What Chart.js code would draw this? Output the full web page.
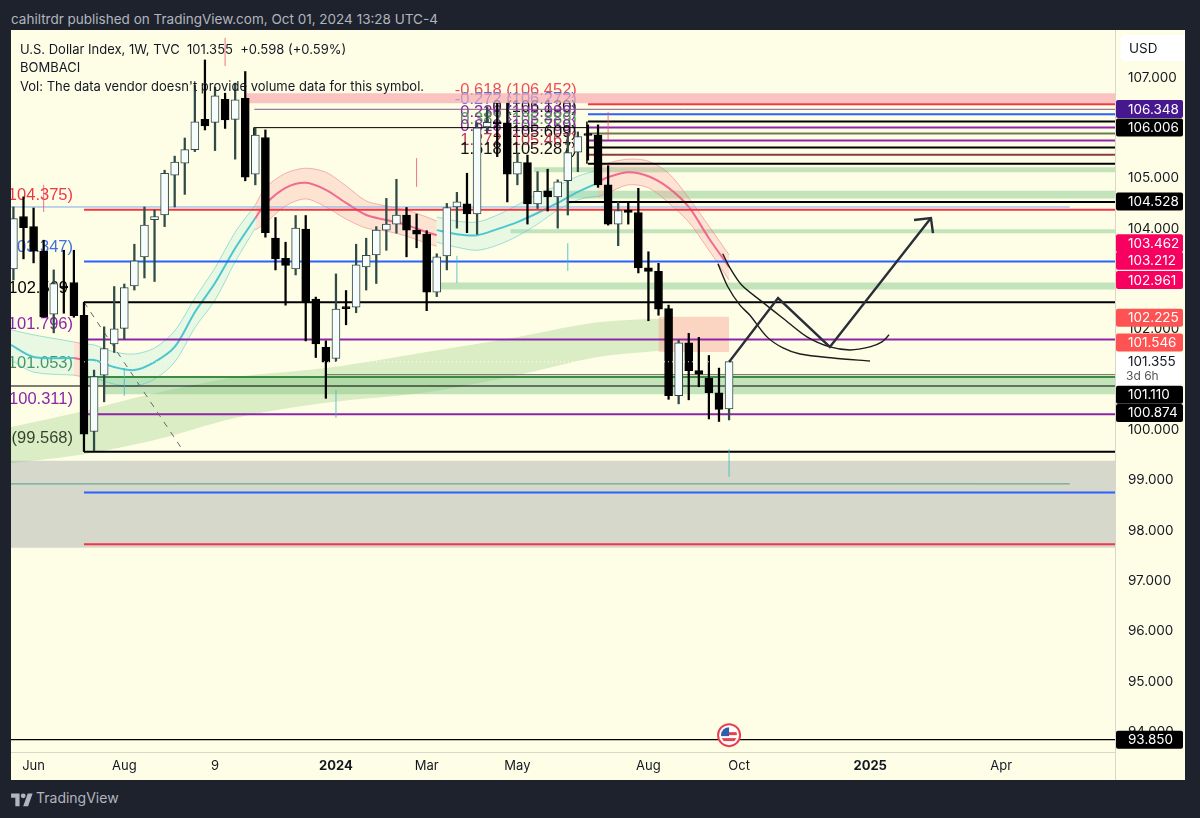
<!DOCTYPE html>
<html><head><meta charset="utf-8">
<script src="https://cdn.jsdelivr.net/npm/chart.js@4"></script>
<style>
html,body{margin:0;padding:0;background:#1e222d;width:1200px;height:818px;overflow:hidden;font-family:Inter,"Liberation Sans",sans-serif}
#wrap{position:absolute;left:11px;top:30px;width:1174px;height:750px;background:#fefee6}
canvas{display:block}
.t{position:absolute;white-space:pre;line-height:18px}
</style></head><body>
<div class="t" style="left:11px;top:10px;color:#b2b5be;font-size:13.5px">cahiltrdr published on TradingView.com, Oct 01, 2024 13:28 UTC-4</div>
<div id="wrap"><canvas id="c" width="1174" height="750"></canvas></div>
<div class="t" style="left:20px;top:40px;color:#131722;font-size:13px">U.S. Dollar Index, 1W, TVC  101.355  +0.598 (+0.59%)</div>
<div class="t" style="left:20px;top:58px;color:#131722;font-size:13px">BOMBACI</div>
<div class="t" style="left:20px;top:77px;color:#131722;font-size:13px">Vol: The data vendor doesn't provide volume data for this symbol.</div>
<svg style="position:absolute;left:11px;top:791px" width="22" height="17" viewBox="0 0 36 28"><path fill="#b2b5be" d="M14 25H7V11H0V4h14v21zM28 25h-8l7.5-21h8L28 25z"/><circle fill="#b2b5be" cx="20" cy="8" r="4"/></svg>
<div class="t" style="left:36px;top:789px;color:#b2b5be;font-size:14px">TradingView</div>
<script>
// ---------- candle data (weekly) ----------
const opens=[103.20,104.24,104.04,103.55,102.30,102.86,102.93,102.28,99.97,101.09,101.71,102.02,102.86,103.44,104.18,104.27,105.06,105.30,105.57,106.17,106.11,106.57,106.17,106.59,105.08,105.81,103.81,103.41,103.20,103.99,102.60,101.64,101.42,102.45,102.44,103.24,103.48,103.97,104.09,104.27,103.97,103.89,102.74,103.46,104.43,104.49,104.29,106.02,106.12,106.10,105.08,105.31,104.49,104.75,104.63,104.95,105.52,105.87,105.86,104.87,104.09,104.37,104.32,103.22,103.15,102.41,100.68,101.73,101.18,101.03,100.74,100.42];
const closes=[104.20,104.02,103.55,102.25,102.91,102.82,102.27,99.92,101.06,101.62,102.01,102.83,103.36,104.07,104.24,105.10,105.32,105.57,106.12,106.04,106.64,106.16,106.56,105.02,105.86,103.92,103.40,103.27,104.01,102.55,101.71,101.35,102.40,102.41,103.28,103.47,103.97,104.09,104.27,103.97,103.89,102.74,103.44,104.42,104.53,104.29,106.00,106.11,106.08,105.08,105.32,104.49,104.74,104.63,104.93,105.51,105.83,105.85,104.87,104.09,104.36,104.32,103.22,103.15,102.40,100.68,101.73,101.18,101.11,100.74,100.41,101.36];
const highs=[104.43,104.63,104.41,103.77,103.18,103.57,103.57,102.54,101.19,102.05,102.85,102.90,103.69,104.43,104.37,105.16,105.44,105.80,106.85,107.35,106.81,106.69,106.89,107.12,106.00,105.96,104.22,103.73,104.26,104.26,102.64,101.77,103.10,102.77,103.69,103.81,104.04,104.60,104.98,104.42,104.29,103.96,103.50,104.50,104.72,105.10,106.10,106.42,106.49,106.49,105.50,105.46,105.13,105.18,104.97,105.90,105.92,106.06,106.06,105.25,104.53,104.52,104.80,103.54,103.31,102.48,101.79,101.92,101.84,101.48,101.23,101.37];
const lows=[102.98,103.40,103.32,102.24,101.93,102.32,102.24,99.58,99.59,100.56,101.54,101.80,102.78,103.02,102.95,104.04,104.43,104.68,105.53,105.96,105.55,105.99,105.38,104.95,104.87,103.83,103.18,102.48,103.08,101.77,101.44,100.63,101.36,102.09,102.33,102.78,102.91,103.57,103.91,103.44,103.62,102.37,102.65,103.18,104.01,103.92,103.89,105.90,105.43,104.53,104.87,104.09,104.40,104.35,104.01,104.27,105.13,105.36,104.82,104.07,103.66,104.09,103.12,102.17,102.28,100.61,100.52,100.60,100.86,100.22,100.17,100.20];

// ---------- axes ----------
const yTicks=[94,95,96,97,98,99,100,101,102,103,104,105,106,107];
const xTickIdx=[2,11,20,32,41,50,63,72,85,98];
const xTickLabels=['Jun','Aug','9','2024','Mar','May','Aug','Oct','2025','Apr'];
const yearTicks=['2024','2025'];
const xMin=-0.24, xMax=109.29, yMin=93.605, yMax=107.945;

// ---------- horizontal levels ----------
const levelPrices=[104.375,104.43,103.347,102.54,101.796,101.053,101.10,100.874,100.311,99.568,98.93,98.76,97.732,93.85,104.528,106.47,106.37,106.272,106.13,106.01,106.006,105.89,105.75,105.609,105.467,105.287];

// ---------- zones [top, bottom] ----------
const zoneTops=[99.39,106.69,105.22,104.75,103.99,102.93,101.07,100.87,102.25];
const zoneBottoms=[97.66,106.49,105.12,104.60,103.91,102.79,100.87,100.71,101.55];
const zoneStart=[xMin,22.97,51.6,55,49.3,42.3,7.4,9,64];
const zoneEnd=[xMax,xMax,xMax,xMax,xMax,xMax,xMax,xMax,71];

// ---------- long EMA band ----------
const emaIdx=[xMin,7,14,22,31,41,50,58,65];
const emaUpper=[100.06,100.38,100.73,101.05,101.23,101.55,101.85,102.14,102.22];
const emaLower=[99.34,99.52,99.80,100.24,100.54,100.75,101.09,101.45,101.59];

// ---------- MA ribbon pieces ----------
const teal1Idx=[xMin,2,6];
const teal1Up=[101.99,101.89,101.75], teal1Mid=[101.69,101.45,101.43], teal1Lo=[101.39,101.15,101.09];
const pink1Idx=[6,7];
const pink1Up=[101.75,101.71], pink1Mid=[101.43,101.39], pink1Lo=[101.09,101.05];
const teal2Idx=[7,8,10,12,14,16,18,20,22,24];
const teal2Up=[101.71,101.69,101.55,101.51,101.63,101.97,102.62,103.22,103.93,104.47];
const teal2Mid=[101.39,101.39,101.25,101.19,101.35,101.65,102.34,102.92,103.61,104.21];
const teal2Lo=[101.05,101.03,100.91,100.87,101.01,101.35,102.03,102.58,103.34,104.01];
const pink2Idx=[24,25,27,29,31,33,35,37,39,41,42];
const pink2Up=[104.47,104.81,105.10,105.20,105.12,104.85,104.55,104.45,104.37,104.23,104.15];
const pink2Mid=[104.21,104.49,104.81,104.91,104.77,104.51,104.27,104.17,104.07,103.93,103.87];
const pink2Lo=[103.97,104.11,104.45,104.59,104.43,104.19,104.01,103.95,103.85,103.71,103.65];
const teal3Idx=[42,44,46,48,50,52,54,56,58];
const teal3Up=[104.23,104.15,104.13,104.27,104.47,104.69,104.85,105.04,105.16];
const teal3Mid=[103.97,103.89,103.87,103.99,104.13,104.31,104.51,104.73,104.91];
const teal3Lo=[103.73,103.63,103.57,103.67,103.85,104.09,104.37,104.57,104.65];
const pink3Idx=[58,59,61,63,65,67,69,71];
const pink3Up=[105.20,105.30,105.38,105.34,105.10,104.61,104.05,103.48];
const pink3Mid=[104.93,105.02,105.12,105.04,104.81,104.43,103.81,103.24];
const pink3Lo=[104.63,104.71,104.87,104.81,104.51,104.13,103.57,102.98];

// ---------- small marker ticks ----------
const pinkTickIdx=[21,3,40,59], pinkTickHi=[107.79,104.87,105.40,106.32], pinkTickLo=[107.23,104.33,104.83,105.76];
const tealTickIdx=[11,32,44,55,71], tealTickHi=[101.23,100.79,103.46,103.71,99.62], tealTickLo=[100.68,100.24,102.92,103.16,99.07];

// ---------- hand-drawn sketch ----------
const curve1Idx=[70.37,71.09,72.25,74.07,76.35,78.73,81.01,83,84.98,86.17,86.87];
const curve1Val=[103.50,103.22,102.88,102.58,102.22,101.85,101.65,101.59,101.65,101.75,101.89];
const curve2Idx=[69.9,70.89,72.08,73.07,74.76,76.35,78.04,81.31,84.98];
const curve2Val=[103.30,102.84,102.48,102.28,101.85,101.63,101.51,101.43,101.37];
const arrowIdx=[71,75.86,81,91.03], arrowVal=[101.35,102.62,101.65,104.21];
const headIdx=[89.35,91.03,91.23], headVal=[104.17,104.21,103.91];
const dashIdx=[7,16.6], dashVal=[102.54,99.66];

// ---------- texts ----------
const leftTexts=['(104.375)','(103.347)','102.569','(101.796)','(101.053)','(100.311)','(99.568)','(98.760)','(97.732)'];
const leftTextPrices=[104.65,103.63,102.82,102.09,101.33,100.60,99.84,99.05,98.01];
const fibTexts=['-0.618 (106.452)','-0.272 (106.272)','0 (106.130)','0.236 (105.989)','0.382 (105.889)','0.618 (105.759)','1 (105.609)','1.272 (105.467)','1.618 (105.287)'];
const fibTextPrices=[106.75,106.57,106.41,106.30,106.16,106.02,105.92,105.75,105.58];
const tagTexts=['106.348','106.006','104.528','103.462','103.212','102.961','102.225','101.546','101.110','100.874','93.850'];
const tagPrices=[106.375,106.01,104.54,103.71,103.36,102.98,102.23,101.74,100.70,100.34,93.85];
const lastPrice=101.355, lastCountdown='3d 6h', currency='USD';

// ---------- dataset builders ----------
const ds=[];
function seg(xs,ys,color,width,order,extra){
  ds.push(Object.assign({type:'line',data:xs.map((x,i)=>({x,y:ys[i]})),borderColor:color,borderWidth:width,pointRadius:0,fill:false,order,tension:0},extra||{}));
}
function band(xs,up,lo,fillColor,order,extra){
  seg(xs,lo,'rgba(0,0,0,0)',0,order,extra);
  seg(xs,up,'rgba(0,0,0,0)',0,order,Object.assign({fill:'-1',backgroundColor:fillColor},extra||{}));
}
// zones
const GREEN='rgba(125,195,135,.45)';
band([zoneStart[0],zoneEnd[0]],[zoneTops[0],zoneTops[0]],[zoneBottoms[0],zoneBottoms[0]],'#d6d8cb',100);
band([zoneStart[1],zoneEnd[1]],[zoneTops[1],zoneTops[1]],[zoneBottoms[1],zoneBottoms[1]],'rgba(248,170,178,.7)',100);
for(let i=2;i<8;i++) band([zoneStart[i],zoneEnd[i]],[zoneTops[i],zoneTops[i]],[zoneBottoms[i],zoneBottoms[i]],GREEN,100);
band([zoneStart[8],zoneEnd[8]],[zoneTops[8],zoneTops[8]],[zoneBottoms[8],zoneBottoms[8]],'rgba(250,165,150,.45)',95);
band(emaIdx,emaUpper,emaLower,'rgba(130,195,110,.28)',96,{tension:.3});
// ribbon
function ribbon(xs,up,mid,lo,kind){
  const teal=kind==='teal';
  const fill=teal?'rgba(110,215,205,.15)':'rgba(245,130,140,.22)';
  const edge=teal?'rgba(70,195,195,.5)':'rgba(240,110,130,.5)';
  const core=teal?'rgba(70,195,205,.95)':'rgba(240,85,130,.85)';
  band(xs,up,lo,fill,90,{tension:.3});
  seg(xs,up,edge,1,89,{tension:.3});
  seg(xs,lo,edge,1,89,{tension:.3});
  seg(xs,mid,core,2,88,{tension:.3});
}
ribbon(teal1Idx,teal1Up,teal1Mid,teal1Lo,'teal');
ribbon(pink1Idx,pink1Up,pink1Mid,pink1Lo,'pink');
ribbon(teal2Idx,teal2Up,teal2Mid,teal2Lo,'teal');
ribbon(pink2Idx,pink2Up,pink2Mid,pink2Lo,'pink');
ribbon(teal3Idx,teal3Up,teal3Mid,teal3Lo,'teal');
ribbon(pink3Idx,pink3Up,pink3Mid,pink3Lo,'pink');
// levels
const RED='#f23645',BLUE='#2962ff',PURP='#8e24aa',BLK='#000';
function level(k,from,to,color,w){seg([from,to],[levelPrices[k],levelPrices[k]],color,w,50);}
level(1,xMin,104.8,'#7fa8ea',1);
level(0,7,xMax,RED,2);
level(2,7,xMax,BLUE,2);
level(3,7,xMax,BLK,2);
level(4,7,xMax,PURP,2);
level(6,30.9,xMax,'#7a7f70',1.2);
level(5,7.4,xMax,'#3d8b40',2);
level(7,xMin,xMax,BLK,1.2);
level(8,7,xMax,PURP,2);
level(9,7,xMax,BLK,2);
level(10,xMin,104.8,'#4f9c8a',1);
level(11,7,xMax,BLUE,2);
level(12,7,xMax,RED,2);
level(13,xMin,xMax,BLK,1.2);
level(14,54.9,xMax,BLK,2);
level(15,57,xMax,RED,2);
level(16,23.9,xMax,'#7a5a8a',1);
level(17,57,xMax,BLUE,2);
level(18,57,xMax,BLK,2);
level(19,57,xMax,PURP,2);
level(20,23.87,57,BLK,1);
level(21,57,xMax,'#6b7a50',2);
level(22,57,xMax,PURP,2);
level(23,57,xMax,BLK,2);
level(24,57,xMax,'#8a3a4a',2);
level(25,57,xMax,BLK,2);
seg([7,7],[levelPrices[9],levelPrices[3]],BLK,2,50);
seg([23.87,23.87],[levelPrices[20],105.86],BLK,1,50);
seg([56.9,56.9],[levelPrices[18],levelPrices[25]],BLK,1.5,50);
seg(dashIdx,dashVal,'#666',1,45,{borderDash:[6,6]});
// marker ticks
pinkTickIdx.forEach((x,i)=>seg([x,x],[pinkTickLo[i],pinkTickHi[i]],'rgba(235,80,110,.8)',1,40));
tealTickIdx.forEach((x,i)=>seg([x,x],[tealTickLo[i],tealTickHi[i]],'rgba(60,180,200,.8)',1,40));
// candles
const xs=opens.map((_,i)=>i);
const isUp=xs.map(i=>closes[i]>=opens[i]);
ds.push({type:'bar',order:20,grouped:false,barThickness:1.6,data:xs.map(i=>({x:i,y:[lows[i],highs[i]]})),backgroundColor:xs.map(i=>isUp[i]?'#2f4a47':'#000')});
ds.push({type:'bar',order:10,grouped:false,barThickness:8,data:xs.map(i=>({x:i,y:[Math.min(opens[i],closes[i]),Math.max(opens[i],closes[i])]})),
  backgroundColor:xs.map(i=>isUp[i]?'#f6fbfb':'#000'),borderColor:xs.map(i=>isUp[i]?'#2f4a47':'#000'),borderWidth:1,borderSkipped:false,minBarLength:2});
// last price dotted
seg([7,71],[lastPrice,lastPrice],'rgba(255,255,255,.9)',1,8,{borderDash:[1,3]});
// sketch
seg(curve1Idx,curve1Val,'#1c1c1c',1.4,5,{tension:.3});
seg(curve2Idx,curve2Val,'#1c1c1c',1.4,5,{tension:.3});
seg(arrowIdx,arrowVal,'#2a2e39',2.4,4);
seg(headIdx,headVal,'#2a2e39',2.4,4);

const AX='Inter, "Liberation Sans", sans-serif';
function roundBox(c,x,y,w,h,r,fill){c.fillStyle=fill;c.beginPath();c.roundRect(x,y,w,h,r);c.fill();}
const tagFill=['#47178f','#000','#000','#f7005f','#f7005f','#f7005f','#ff5252','#ff5252','#000','#000','#000'];
const decor={
  id:'decor',
  beforeDatasetsDraw(ch){
    const c=ch.ctx,a=ch.chartArea,xS=ch.scales.x,yS=ch.scales.y;
    c.save();c.beginPath();c.rect(a.left,a.top,a.width,a.height);c.clip();
    c.textAlign='right';c.textBaseline='middle';c.font='16.5px "Liberation Sans", sans-serif';
    const lc=[RED,'#3f6fe0','#000',PURP,'#3f8f58',PURP,'#111','#3f6fe0',RED];
    leftTexts.forEach((t,i)=>{c.fillStyle=lc[i];c.fillText(t,xS.getPixelForValue(i===2?5.41:5.91),yS.getPixelForValue(leftTextPrices[i]));});
    const fc=['#ef4f5c','#3f6fe0','#111',PURP,'#4f9a5a',PURP,'#111','#c2365a','#111'];
    fibTexts.forEach((t,i)=>{c.fillStyle=fc[i];c.fillText(t,xS.getPixelForValue(55.9),yS.getPixelForValue(fibTextPrices[i]));});
    c.restore();
  },
  afterDraw(ch){
    const c=ch.ctx,a=ch.chartArea,xS=ch.scales.x,yS=ch.scales.y;
    c.save();
    // axis separators down to the panel edge
    c.strokeStyle='#d8d8c8';c.lineWidth=1;
    c.beginPath();c.moveTo(a.right+.5,0);c.lineTo(a.right+.5,750);c.stroke();
    const L=a.right+1,W=67,H=18;
    c.textBaseline='middle';c.textAlign='left';c.font='13.5px '+AX;
    // countdown box
    const ly=yS.getPixelForValue(lastPrice);
    roundBox(c,L,ly-9,W,33,2,'#ffffff');
    c.fillStyle='#131722';c.fillText(lastPrice.toFixed(3),L+12,ly);
    c.fillStyle='#555';c.font='12px '+AX;c.fillText(lastCountdown,L+10,ly+15);
    // tags
    c.font='13.5px '+AX;
    tagTexts.forEach((t,i)=>{
      const y=yS.getPixelForValue(tagPrices[i]);
      roundBox(c,L,y-9,W,H,2,tagFill[i]);
      c.fillStyle='#fff';c.fillText(t,L+12,y+.5);
    });
    // currency button
    roundBox(c,a.right+6,5,64,26,4,'#fff');
    c.fillStyle='#131722';c.fillText(currency,a.right+14,18.5);
    // flag event icon
    const fx=xS.getPixelForValue(71),fy=yS.getPixelForValue(93.94);
    c.beginPath();c.arc(fx,fy,11,0,Math.PI*2);c.fillStyle='#fff';c.fill();c.lineWidth=2;c.strokeStyle='#e8404f';c.stroke();
    c.beginPath();c.arc(fx,fy,8,0,Math.PI*2);c.save();c.clip();
    c.fillStyle='#e8404f';c.fillRect(fx-8,fy-3,16,3);c.fillRect(fx-8,fy+3,16,3);
    c.fillStyle='#2f5fa8';c.fillRect(fx-8,fy-8,8,9);c.restore();
    c.restore();
  }
};

new Chart(document.getElementById('c'),{
  type:'bar',
  data:{datasets:ds},
  plugins:[decor],
  options:{
    responsive:false,animation:false,events:[],
    layout:{padding:0},
    plugins:{legend:{display:false},tooltip:{enabled:false}},
    scales:{
      x:{type:'linear',min:xMin,max:xMax,offset:false,
        grid:{display:false,drawTicks:false},border:{display:true,color:'#d8d8c8'},
        afterBuildTicks:s=>{s.ticks=xTickIdx.map(v=>({value:v}));},
        afterFit:s=>{s.height=28;s.paddingLeft=0;s.paddingRight=0;},
        ticks:{autoSkip:false,maxRotation:0,padding:6,color:'#131722',
          callback:v=>xTickLabels[xTickIdx.indexOf(v)],
          font:ctx=>{const l=xTickLabels[xTickIdx.indexOf(ctx.tick?ctx.tick.value:-1)];return {family:AX,size:13,weight:yearTicks.includes(l)?'bold':'normal'};}}},
      y:{type:'linear',position:'right',min:yMin,max:yMax,
        grid:{display:false,drawTicks:false},border:{display:true,color:'#d8d8c8'},
        afterBuildTicks:s=>{s.ticks=yTicks.map(v=>({value:v}));},
        afterFit:s=>{s.width=70;s.paddingTop=0;s.paddingBottom=0;},
        ticks:{autoSkip:false,padding:13,color:'#131722',font:{family:AX,size:13.5},callback:v=>Number(v).toFixed(3)}}
    }
  }
});
</script>
</body></html>
